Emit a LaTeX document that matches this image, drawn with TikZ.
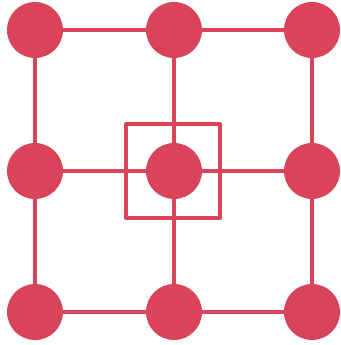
\documentclass[tikz,border=0pt]{standalone}
\usetikzlibrary{positioning}
\definecolor{gridRed}{HTML}{D9445A}
\begin{document}
\begin{tikzpicture}[x=1pt,y=-1pt,line cap=round,line join=round]
\path[fill=white] (0,0) rectangle (338,345);
\tikzset{dot/.style={circle,fill=gridRed,minimum size=56pt,inner sep=0pt},link/.style={draw=gridRed,line width=4pt},frame/.style={draw=gridRed,line width=4pt,minimum size=94pt,inner sep=0pt}}
\node[dot] (tl) at (35,30) {}; \node[dot] (tm) at (174,30) {}; \node[dot] (tr) at (312,30) {};
\node[dot] (ml) at (35,171) {}; \node[dot] (mm) at (174,171) {}; \node[dot] (mr) at (312,171) {};
\node[dot] (bl) at (35,312) {}; \node[dot] (bm) at (174,312) {}; \node[dot] (br) at (312,312) {};
\node[frame] (box) at (173,171) {};
\draw[link] (tl) -- (tm); \draw[link] (tm) -- (tr); \draw[link] (ml) -- (mm); \draw[link] (mm) -- (mr); \draw[link] (bl) -- (bm); \draw[link] (bm) -- (br);
\draw[link] (tl) -- (ml); \draw[link] (ml) -- (bl); \draw[link] (tm) -- (mm); \draw[link] (mm) -- (bm); \draw[link] (tr) -- (mr); \draw[link] (mr) -- (br);
\end{tikzpicture}
\end{document}
